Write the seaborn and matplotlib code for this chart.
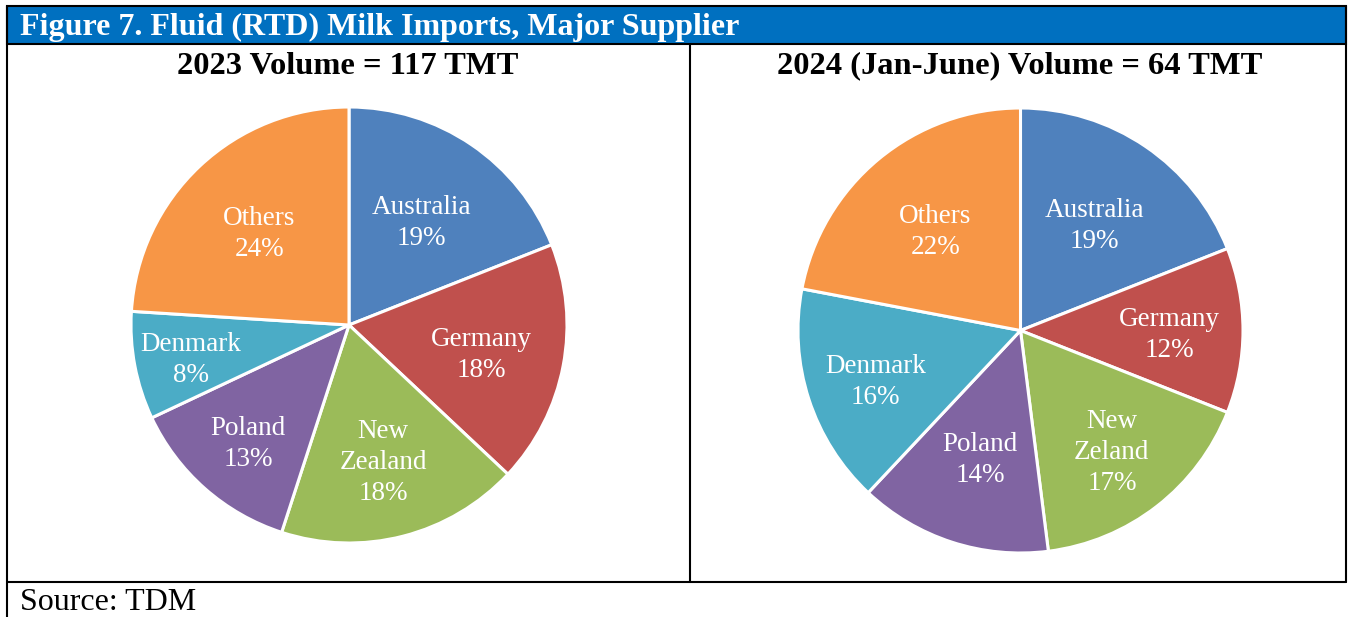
import matplotlib
matplotlib.use("Agg")
import matplotlib.pyplot as plt
import seaborn as sns
import numpy as np
from matplotlib.patches import Rectangle
from matplotlib.lines import Line2D

sns.set_style("white")
plt.rcParams['font.family'] = ['Liberation Serif', 'DejaVu Serif']
plt.rcParams['text.color'] = 'black'

# ---- data ----
suppliers_2023 = ["Australia", "Germany", "New\nZealand", "Poland", "Denmark", "Others"]
share_2023 = [19, 18, 18, 13, 8, 24]
suppliers_2024 = ["Australia", "Germany", "New\nZeland", "Poland", "Denmark", "Others"]
share_2024 = [19, 12, 17, 14, 16, 22]
colors = ["#4F81BD", "#C0504D", "#9BBB59", "#8064A2", "#4BACC6", "#F79646"]

title_main = "Figure 7. Fluid (RTD) Milk Imports, Major Supplier"
title_left = "2023 Volume = 117 TMT"
title_right = "2024 (Jan-June) Volume = 64 TMT"
source_text = "Source: TDM"

W, H = 1351, 617
fig = plt.figure(figsize=(W / 100, H / 100), dpi=100)

def fx(x):
    return x / W

def fy(y):
    return 1 - y / H

# header bar
fig.add_artist(Rectangle((fx(7), fy(44)), fx(1346) - fx(7), fy(6) - fy(44),
                         transform=fig.transFigure, facecolor="#0070C0",
                         edgecolor="black", linewidth=1.5))
fig.text(fx(20), fy(27), title_main, color="white", fontsize=23, fontweight="bold",
         ha="left", va="center")

lw = 1.5
def hline(y, x0, x1):
    fig.add_artist(Line2D([fx(x0), fx(x1)], [fy(y), fy(y)], transform=fig.transFigure,
                          color="black", linewidth=lw))

def vline(x, y0, y1):
    fig.add_artist(Line2D([fx(x), fx(x)], [fy(y0), fy(y1)], transform=fig.transFigure,
                          color="black", linewidth=lw))

vline(7, 6, 617)
vline(1346, 6, 582)
vline(690, 44, 582)
hline(582, 7, 1346)

fig.text(fx(348), fy(66), title_left, fontsize=23.4, fontweight="bold", ha="center",
         va="center", color="black")
fig.text(fx(1020), fy(66), title_right, fontsize=23.4, fontweight="bold", ha="center",
         va="center", color="black")
fig.text(fx(20), fy(603), source_text, fontsize=23, ha="left", va="center", color="black")


def draw_pie(cx, cy, r, names, vals, pos_dist):
    ax = fig.add_axes([fx(cx - r), fy(cy + r), 2 * r / W, 2 * r / H])
    labels = [f"{n}\n{v}%" for n, v in zip(names, vals)]
    wedges, texts = ax.pie(vals, colors=colors, startangle=90, counterclock=False,
                           labels=labels, labeldistance=None,
                           wedgeprops=dict(edgecolor="white", linewidth=2.2))
    for w, lab, d in zip(wedges, labels, pos_dist):
        ang = np.deg2rad((w.theta1 + w.theta2) / 2)
        ax.text(d * np.cos(ang), d * np.sin(ang) - 0.02, lab, ha="center", va="center",
                color="white", fontsize=19.5, linespacing=1.32)
    ax.set_xlim(-1, 1)
    ax.set_ylim(-1, 1)
    ax.axis("off")
    return ax


draw_pie(349, 325, 218, suppliers_2023, share_2023, [0.59, 0.62, 0.63, 0.70, 0.74, 0.60])
draw_pie(1020.5, 330.5, 222.5, suppliers_2024, share_2024, [0.59, 0.67, 0.67, 0.59, 0.685, 0.60])

fig.savefig("out.png", dpi=100)
